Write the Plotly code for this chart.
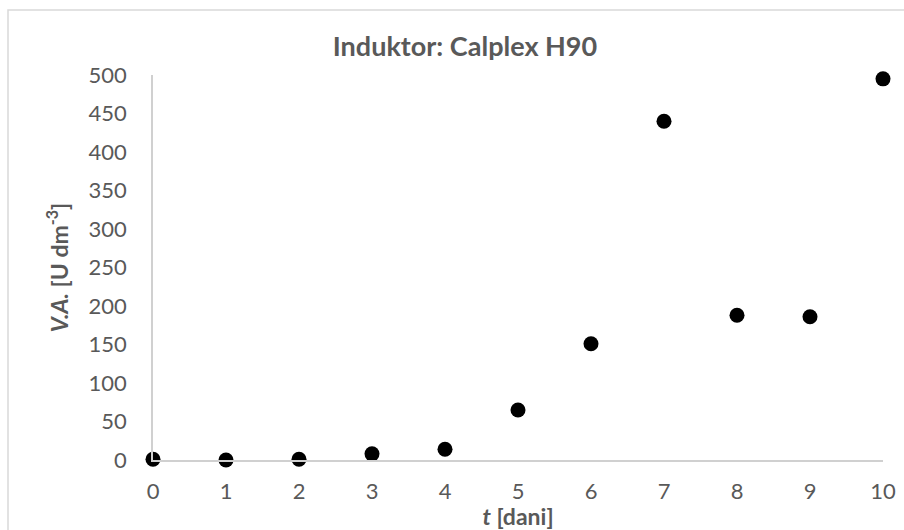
import plotly.graph_objects as go

days = [0, 1, 2, 3, 4, 5, 6, 7, 8, 9, 10]
va = [1, 0, 1, 8, 14, 65, 151, 440, 188, 186, 495]
x_ticks = list(range(0, 11))
y_ticks = list(range(0, 501, 50))

grey = "#595959"
font_fam = "Lato"

fig = go.Figure()
fig.add_trace(go.Scatter(
    x=days, y=va, mode="markers",
    marker=dict(color="black", size=15),
    cliponaxis=False, showlegend=False,
))

L, R, T, B = 153, 21, 75, 70
W, H = 904, 530
pw, ph = W - L - R, H - T - B

fig.update_layout(
    width=W, height=H,
    margin=dict(l=L, r=R, t=T, b=B, autoexpand=False),
    paper_bgcolor="white", plot_bgcolor="white",
    font=dict(family=font_fam, color=grey, size=22),
    title=dict(text="<b>Induktor: Calplex H90</b>", x=465 / W, xanchor="center",
               y=1 - 47 / H, yanchor="middle",
               font=dict(family=font_fam, size=27, color=grey)),
    xaxis=dict(range=[0, 10], tickvals=x_ticks, showgrid=False, zeroline=False,
               showline=True, linecolor="#d0d0d0", linewidth=1.5, ticks="",
               ticklabelstandoff=11, tickfont=dict(family=font_fam, size=22, color=grey),
               title=dict(text="<b><i>t</i> [dani]</b>", standoff=0,
                          font=dict(family=font_fam, size=23, color=grey))),
    yaxis=dict(range=[0, 500], tickvals=y_ticks, showgrid=False, zeroline=False,
               showline=True, linecolor="#d0d0d0", linewidth=1.5, ticks="",
               ticklabelstandoff=20, tickfont=dict(family=font_fam, size=22, color=grey),
               title=dict(text="<b><i>V.A.</i> [U dm<sup>-3</sup>]</b>", standoff=14,
                          font=dict(family=font_fam, size=23, color=grey))),
)

fig.add_shape(type="rect", xref="paper", yref="paper",
              x0=(8 - L) / pw, x1=(W + 5 - L) / pw,
              y0=(H - T - (H + 5)) / ph, y1=(H - B - 10) / ph,
              line=dict(color="#d9d9d9", width=1.5), fillcolor="rgba(0,0,0,0)", layer="below")

fig.write_html("out.html", config={"displayModeBar": False},
               post_script="document.body.style.margin='0';document.body.style.padding='0';document.body.style.overflow='hidden';")
